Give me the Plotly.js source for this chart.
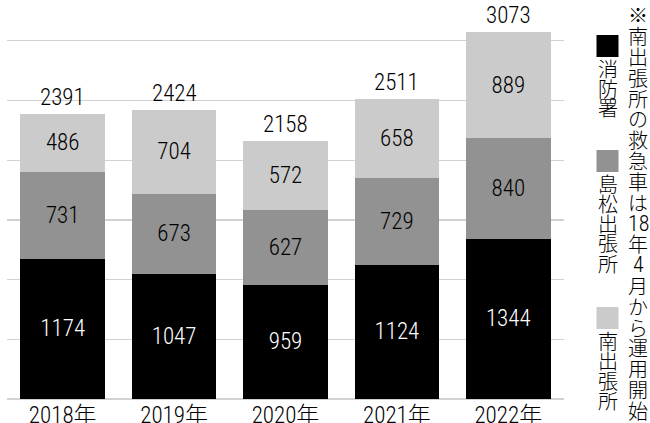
<!DOCTYPE html>
<html>
<head>
<meta charset="utf-8">
<script src="https://cdn.plot.ly/plotly-3.0.1.min.js"></script>
<style>html,body{margin:0;padding:0;background:#fff;}#chart{width:650px;height:423px;}</style>
</head>
<body>
<div id="chart"></div>
<script>
// ---- data ----
const years = ['2018年', '2019年', '2020年', '2021年', '2022年'];
const fireHQ = [1174, 1047, 959, 1124, 1344];        // 消防署
const shimamatsu = [731, 673, 627, 729, 840];        // 島松出張所
const minami = [486, 704, 572, 658, 889];            // 南出張所
const seriesNames = ['消防署', '島松出張所', '南出張所'];
const noteRows = ['※','南','出','張','所','の','救','急','車','は','18','年','4','月','か','ら','運','用','開','始'];

// ---- style ----
const colors = ['#000000', '#929292', '#cbcbcb'];
const textColors = ['#ffffff', '#000000', '#000000'];
const FONT = '"Roboto Condensed", "Noto Sans CJK JP", sans-serif';
const CJK = '"Noto Sans CJK JP", sans-serif';
const NUMW = 300;

const W = 650, H = 423;
const M = {l: 7, r: 86, t: 5, b: 24};
const plotW = W - M.l - M.r, plotH = H - M.t - M.b;
const px2x = px => (px - M.l) / plotW;
const py2y = py => (H - M.b - py) / plotH;

const series = [fireHQ, shimamatsu, minami];
const traces = series.map((vals, i) => ({
  type: 'bar',
  name: seriesNames[i],
  x: years,
  y: vals,
  text: vals.map(String),
  textposition: 'inside',
  insidetextanchor: 'middle',
  constraintext: 'none',
  textfont: {family: FONT, size: 23, weight: NUMW, color: textColors[i]},
  marker: {color: colors[i], line: {width: 0}},
  hoverinfo: 'skip'
}));

const totals = years.map((_, j) => fireHQ[j] + shimamatsu[j] + minami[j]);
const annotations = years.map((yr, j) => ({
  x: yr, y: totals[j], xref: 'x', yref: 'y',
  text: String(totals[j]), showarrow: false,
  yanchor: 'bottom', yshift: 1,
  font: {family: FONT, size: 23, weight: NUMW, color: '#000'}
}));

const shapes = [];
// legend: square + vertical text
const legendX = 607.5;
const squareTops = [35, 150, 307];
const pitch = 20;
seriesNames.forEach((name, i) => {
  const top = squareTops[i];
  shapes.push({
    type: 'rect', xref: 'paper', yref: 'paper',
    x0: px2x(legendX - 11), x1: px2x(legendX + 11),
    y0: py2y(top + 22), y1: py2y(top),
    fillcolor: colors[i], line: {width: 0}
  });
  Array.from(name).forEach((ch, k) => {
    annotations.push({
      xref: 'paper', yref: 'paper',
      x: px2x(legendX), y: py2y(top + 33 + k * pitch),
      text: ch, showarrow: false, xanchor: 'center', yanchor: 'middle',
      font: {family: CJK, size: 20, weight: 300, color: '#000'}
    });
  });
});
// note column
const noteX = 638;
noteRows.forEach((ch, k) => {
  const digit = /[0-9]/.test(ch);
  annotations.push({
    xref: 'paper', yref: 'paper',
    x: px2x(noteX), y: py2y(15 + k * 20.8),
    text: ch, showarrow: false, xanchor: 'center', yanchor: 'middle',
    font: {family: digit ? FONT : CJK, size: digit ? 22 : 20, weight: 300, color: '#000'}
  });
});

const layout = {
  width: W, height: H,
  margin: M,
  barmode: 'stack',
  bargap: 0.24,
  showlegend: false,
  paper_bgcolor: '#fff',
  plot_bgcolor: '#fff',
  xaxis: {
    type: 'category',
    showgrid: false, zeroline: false, showline: false,
    ticks: '', tickfont: {family: FONT, size: 23, weight: NUMW, color: '#000'},
    fixedrange: true
  },
  yaxis: {
    range: [0, 3300],
    dtick: 500, tick0: 0,
    showgrid: true, gridcolor: '#d2d2d2', gridwidth: 1.2,
    zeroline: true, zerolinecolor: '#d2d2d2', zerolinewidth: 1.2,
    showticklabels: false, ticks: '', showline: false,
    fixedrange: true
  },
  annotations: annotations,
  shapes: shapes
};

Plotly.newPlot('chart', traces, layout, {displayModeBar: false, staticPlot: true});
</script>
</body>
</html>
